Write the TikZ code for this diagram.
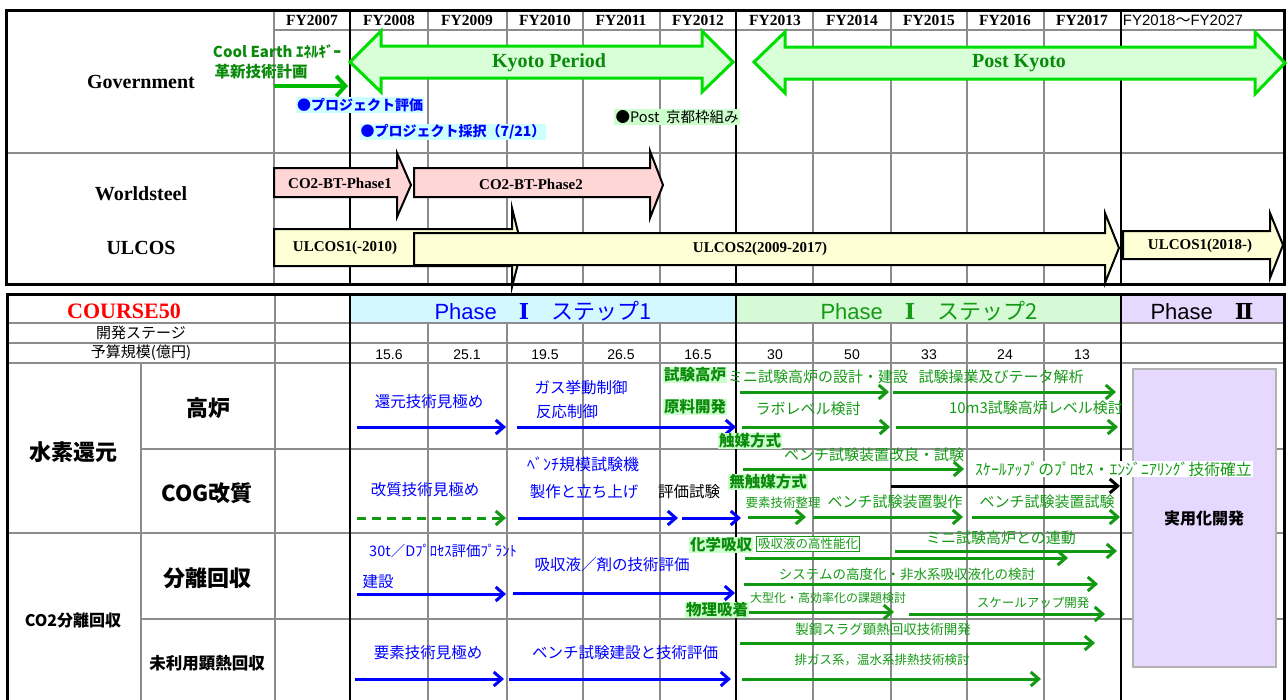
\documentclass[tikz,border=0pt]{standalone}
\usepackage{fontspec}
\setmainfont{Liberation Serif}
\newfontfamily\jp{Noto Sans CJK JP}
\newfontfamily\lsans{Liberation Sans}
\newfontfamily\dvserif{DejaVu Serif}
\usetikzlibrary{arrows.meta}
\definecolor{gridgray}{HTML}{8C8C8C}
\definecolor{gtxt}{HTML}{159A15}
\definecolor{gline}{HTML}{119911}
\definecolor{gdark}{HTML}{0A8A0A}
\definecolor{tagbg}{HTML}{CCFFCC}
\definecolor{limeg}{HTML}{00DD00}
\definecolor{kyfill}{HTML}{D8FFD8}
\definecolor{cybg}{HTML}{CCFFFF}
\definecolor{ph1}{HTML}{D4F8FF}
\definecolor{ph2}{HTML}{D6FAD6}
\definecolor{ph3}{HTML}{E6D8FF}
\definecolor{pinkf}{HTML}{FFD6D6}
\definecolor{yelf}{HTML}{FFFFD6}
\definecolor{blu}{HTML}{0000FF}
\definecolor{redc}{HTML}{FF0000}
\newcommand\fsz[1]{\fontsize{#1}{#1}\selectfont}
\newcommand\tlarr[5]{\coordinate (#2s) at (#3,#5); \coordinate (#2e) at (#4,#5); \draw[#1] (#2s) -- (#2e);}
\tikzset{
  gridg/.style={draw=gridgray, line width=1.5pt},
  gridh/.style={draw=gridgray, line width=1.2pt},
  gridk/.style={draw=black, line width=2.6pt},
  yrlab/.style={font=\bfseries\fsz{15.5}, inner sep=0pt},
  rowlab/.style={font=\bfseries\fsz{20}, inner sep=0pt},
  tlarrow/.style={line width=3pt, -{Straight Barb[length=8pt,width=14pt]}},
  arrB/.style={tlarrow, draw=blu},
  arrG/.style={tlarrow, draw=gline},
  arrK/.style={tlarrow, draw=black},
  txtB/.style={font=\jp\fsz{15.5}, text=blu, inner sep=0pt},
  txtG/.style={font=\jp\fsz{15}, text=gtxt, inner sep=0pt},
  tagG/.style={font=\jp\bfseries\fsz{15.5}, text=gdark, fill=tagbg, inner sep=1pt},
  catlab/.style={font=\jp\bfseries\fsz{22}, inner sep=0pt},
  bigarrow/.style={draw=limeg, line width=3pt, fill=kyfill, line join=miter},
  wsarrow/.style={draw=black, line width=2pt, fill=pinkf},
  ularrow/.style={draw=black, line width=2pt, fill=yelf},
  shapetext/.style={font=\bfseries\fsz{15}, inner sep=0pt},
  phasetxt/.style={font=\fsz{22}, inner sep=0pt},
}
\begin{document}
\begin{tikzpicture}[x=1pt,y=-1pt]
\useasboundingbox (0,0) rectangle (1288,699);
\fill[white] (0,0) rectangle (1288,699);
% ---------- upper grid ----------
\foreach \x in {274,428,507,583,660,813,891,967,1044} \draw[gridg] (\x,10) -- (\x,284);
\draw[gridh] (274,30) -- (1284,30);
\draw[gridh] (6,153) -- (1284,153);
\foreach \x in {350,736,1121} \draw[gridk] (\x,10) -- (\x,284);
\draw[line width=3pt] (6,10) rectangle (1284,284);
% years
\foreach \x/\t in {312/FY2007,389/FY2008,467/FY2009,545/FY2010,621/FY2011,698/FY2012,775/FY2013,852/FY2014,929/FY2015,1005/FY2016,1082/FY2017}
  \node[yrlab] (yr\x) at (\x,20) {\t};
\node[inner sep=0pt, font=\fsz{15}] (yr18) at (1183,20) {{\lsans FY2018}{\jp ～}{\lsans FY2027}};
% row labels
\node[rowlab] (gov) at (141,82) {Government};
\node[rowlab] (ws) at (141,194) {Worldsteel};
\node[rowlab] (ulc) at (141,248) {ULCOS};
% Kyoto arrows
\draw[bigarrow] (350,62) -- (381,31) -- (381,46) -- (702,46) -- (702,31) -- (733,62) -- (702,92) -- (702,78) -- (381,78) -- (381,92) -- cycle;
\node[font=\bfseries\fsz{20}, text=gdark, inner sep=0pt] (kyoto) at (549,63) {Kyoto Period};
\draw[bigarrow] (754,62) -- (785,32) -- (785,47) -- (1255,47) -- (1255,32) -- (1285,63) -- (1255,94) -- (1255,79) -- (785,79) -- (785,93) -- cycle;
\node[font=\bfseries\fsz{20}, text=gdark, inner sep=0pt] (postky) at (1019,63) {Post Kyoto};
% Cool Earth
\node[font=\jp\bfseries\fsz{15}, text=gdark, inner sep=0pt] (cool) at (277,52) {Cool Earth ｴﾈﾙｷﾞｰ};
\node[font=\jp\bfseries\fsz{15.5}, text=gdark, inner sep=0pt] (kakushin) at (261,72) {革新技術計画};
\coordinate (ces) at (274,86); \coordinate (cee) at (348,86);
\draw[draw=limeg!85!black, line width=4pt, -{Straight Barb[length=9pt,width=20pt]}] (ces) -- (cee);
\node[font=\jp\bfseries\fsz{14}, text=blu, fill=cybg, inner sep=1pt] (hyoka) at (360,105) {●プロジェクト評価};
\node[font=\jp\bfseries\fsz{14}, text=blu, fill=cybg, inner sep=1pt] (saitaku) at (453,132) {●プロジェクト採択（7/21）};
\node[font=\jp\fsz{14.5}, fill=tagbg, inner sep=1.5pt] (postkf) at (677,117) {●Post\ \ 京都枠組み};
% Worldsteel arrows
\draw[wsarrow] (274,168) -- (397,168) -- (397,153) -- (411,185) -- (397,217) -- (397,197) -- (274,197) -- cycle;
\node[shapetext] (bt1) at (340,183) {CO2-BT-Phase1};
\draw[wsarrow] (414,168) -- (650,168) -- (650,151) -- (663,185) -- (650,218) -- (650,197) -- (414,197) -- cycle;
\node[shapetext] (bt2) at (531,184) {CO2-BT-Phase2};
% ULCOS arrows
\draw[ularrow] (274,229) -- (512,229) -- (512,208) -- (522,248) -- (512,287) -- (512,266) -- (274,266) -- cycle;
\node[shapetext] (u1) at (345,248) {ULCOS1(-2010)};
\draw[ularrow] (414,233) -- (1105,233) -- (1105,213) -- (1119,248) -- (1105,283) -- (1105,265) -- (414,265) -- cycle;
\node[shapetext] (u2) at (760,249) {ULCOS2(2009-2017)};
\draw[ularrow] (1123,231) -- (1270,231) -- (1270,213) -- (1283,245) -- (1270,278) -- (1270,259) -- (1123,259) -- cycle;
\node[shapetext] (u3) at (1200,246) {ULCOS1(2018-)};
% ---------- lower grid ----------
\fill[ph1] (350,294) rectangle (736,323);
\fill[ph2] (736,294) rectangle (1121,323);
\fill[ph3] (1121,294) rectangle (1284,323);
\draw[gridh] (6,323) -- (1284,323);
\draw[gridh] (6,343) -- (1284,343);
\draw[draw=gridgray, line width=2.6pt] (6,363) -- (1284,363);
\draw[gridh] (141,449) -- (1284,449);
\draw[gridh] (6,533) -- (1284,533);
\draw[gridh] (141,619) -- (1284,619);
\foreach \x in {428,507,583,660,813,891,967,1044} \draw[gridg] (\x,323) -- (\x,702);
\draw[gridg] (275,294) -- (275,702);
\draw[gridg] (141,363) -- (141,702);
\foreach \x in {350,736,1121} \draw[gridk] (\x,294) -- (\x,702);
\draw[line width=3pt] (7,702) -- (7,294) -- (1284,294) -- (1284,702);
% ---- Phase II box ----
\draw[draw=gray!60, line width=1.2pt, fill=ph3] (1133,369) rectangle (1276,667);
\node[font=\jp\bfseries\fsz{16}, inner sep=0pt] (jitsuyo) at (1204,518) {実用化開発};
% headers
\node[font=\bfseries\fsz{22}, text=redc, inner sep=0pt] (course) at (124,311) {COURSE50};
\node[phasetxt, text=blu] (ph1t) at (543,311) {{\lsans Phase}{\jp　}{\dvserif\bfseries Ⅰ}{\jp　ステップ1}};
\node[phasetxt, text=gtxt] (ph2t) at (929,311) {{\lsans Phase}{\jp　}{\dvserif\bfseries Ⅰ}{\jp　ステップ2}};
\node[phasetxt] (ph3t) at (1202,312) {{\lsans Phase}{\jp　}{\dvserif\bfseries Ⅱ}};
\node[font=\jp\fsz{15}, inner sep=0pt] (stage) at (141,333) {開発ステージ};
\node[font=\jp\fsz{15}, inner sep=0pt] (budget) at (141,353) {予算規模(億円)};
\foreach \x/\t in {389/15.6,467/25.1,545/19.5,621/26.5,698/16.5,775/30,852/50,929/33,1005/24,1082/13}
  \node[font=\lsans\fsz{14}, inner sep=0pt] (bd\x) at (\x,355) {\t};
% category labels
\node[catlab] (suiso) at (73,452) {水素還元};
\node[font=\jp\bfseries\fsz{16}, inner sep=0pt] (co2) at (73,620) {CO2分離回収};
\node[catlab] (koro) at (208,408) {高炉};
\node[catlab] (cog) at (207,493) {COG改質};
\node[catlab] (bunri) at (207,578) {分離回収};
\node[font=\jp\bfseries\fsz{16.5}, inner sep=0pt] (miriyo) at (207,663) {未利用顕熱回収};
% ---- 高炉 row ----
\node[txtB] (t1) at (429,402) {還元技術見極め};
\tlarr{arrB}{a1}{357}{506}{427}
\node[txtB] (t2) at (581,388) {ガス挙動制御};
\node[txtB] (t3) at (567,412) {反応制御};
\tlarr{arrB}{a2}{517}{736}{427}
\node[txtG] (t4) at (818,377) {ミニ試験高炉の設計・建設};
\tlarr{arrG}{a3}{740}{889}{392}
\node[txtG] (t5) at (1001,377) {試験操業及びテータ解析};
\tlarr{arrG}{a4}{893}{1116}{392}
\node[txtG] (t6) at (808,409) {ラボレベル検討};
\tlarr{arrG}{a5}{742}{890}{427}
\node[txtG] (t7) at (1036,408) {10m3試験高炉レベル検討};
\tlarr{arrG}{a6}{896}{1118}{427}
\node[tagG] (g1) at (695,375) {試験高炉};
\node[tagG] (g2) at (695,407) {原料開発};
\node[tagG] (g3) at (750,441) {触媒方式};
% ---- COG row ----
\node[txtG] (t8) at (874,455) {ベンチ試験装置改良・試験};
\tlarr{arrG}{a7}{743}{964}{469}
\tlarr{arrK}{a8}{891}{1120}{486}
\node[txtG, fill=white, inner sep=1pt, anchor=west, font=\jp\fsz{15.8}] (t9) at (974,469) {ｽｹｰﾙｱｯﾌﾟのﾌﾟﾛｾｽ・ｴﾝｼﾞﾆｱﾘﾝｸﾞ技術確立};
\node[txtB, font=\jp\fsz{16}] (t10) at (583,464) {ﾍﾞﾝﾁ規模試験機};
\node[txtB] (t11) at (584,492) {製作と立ち上げ};
\node[txtB] (t12) at (425,490) {改質技術見極め};
\node[font=\jp\fsz{15.5}, inner sep=0pt] (t13) at (689,492) {評価試験};
\tlarr{arrG, dash pattern=on 9pt off 6pt}{a9}{357}{506}{518}
\tlarr{arrB}{a10}{518}{678}{518}
\tlarr{arrB}{a11}{682}{741}{518}
\node[tagG] (g4) at (768,482) {無触媒方式};
\node[txtG, font=\jp\fsz{12.5}] (t14) at (783,503) {要素技術整理};
\tlarr{arrG}{a12}{748}{806}{517}
\node[txtG] (t15) at (895,502) {ベンチ試験装置製作};
\tlarr{arrG}{a13}{813}{963}{517}
\node[txtG] (t16) at (1047,502) {ベンチ試験装置試験};
\tlarr{arrG}{a14}{972}{1120}{517}
% ---- 分離回収 row ----
\node[txtB, font=\jp\fsz{14.5}] (t17) at (443,551) {30t／Dﾌﾟﾛｾｽ評価ﾌﾟﾗﾝﾄ};
\node[txtB] (t18) at (378,582) {建設};
\tlarr{arrB}{a15}{357}{506}{594}
\node[txtB] (t19) at (612,565) {吸収液／剤の技術評価};
\tlarr{arrB}{a16}{513}{735}{593}
\node[txtG, font=\jp\fsz{15}] (t20) at (1001,538) {ミニ試験高炉との連動};
\tlarr{arrG}{a17}{895}{1117}{551}
\tlarr{arrG}{a18}{745}{1068}{558}
\node[tagG] (g5) at (721,545) {化学吸収};
\node[txtG, font=\jp\fsz{12.5}, draw=gline, line width=1.2pt, fill=white, inner sep=1.5pt] (t21) at (808,544) {吸収液の高性能化};
\node[txtG, font=\jp\fsz{13.5}] (t22) at (907,574) {システムの高度化・非水系吸収液化の検討};
\tlarr{arrG}{a19}{744}{1098}{584}
\node[txtG, font=\jp\fsz{12}] (t23) at (828,598) {大型化・高効率化の課題検討};
\tlarr{arrG}{a20}{747}{894}{612}
\node[txtG, font=\jp\fsz{12.5}] (t24) at (1033,603) {スケールアップ開発};
\tlarr{arrG}{a21}{909}{1105}{614}
\node[tagG] (g6) at (717,610) {物理吸着};
% ---- 未利用顕熱回収 row ----
\node[txtB] (t25) at (428,653) {要素技術見極め};
\tlarr{arrB}{a22}{355}{504}{679}
\node[txtB] (t26) at (625,653) {ベンチ試験建設と技術評価};
\tlarr{arrB}{a23}{509}{731}{679}
\node[txtG, font=\jp\fsz{13.5}] (t27) at (883,629) {製鋼スラグ顕熱回収技術開発};
\tlarr{arrG}{a24}{740}{1095}{643}
\node[txtG, font=\jp\fsz{12.5}] (t28) at (882,660) {排ガス系，温水系排熱技術検討};
\tlarr{arrG}{a25}{742}{1041}{679}
\end{tikzpicture}
\end{document}
